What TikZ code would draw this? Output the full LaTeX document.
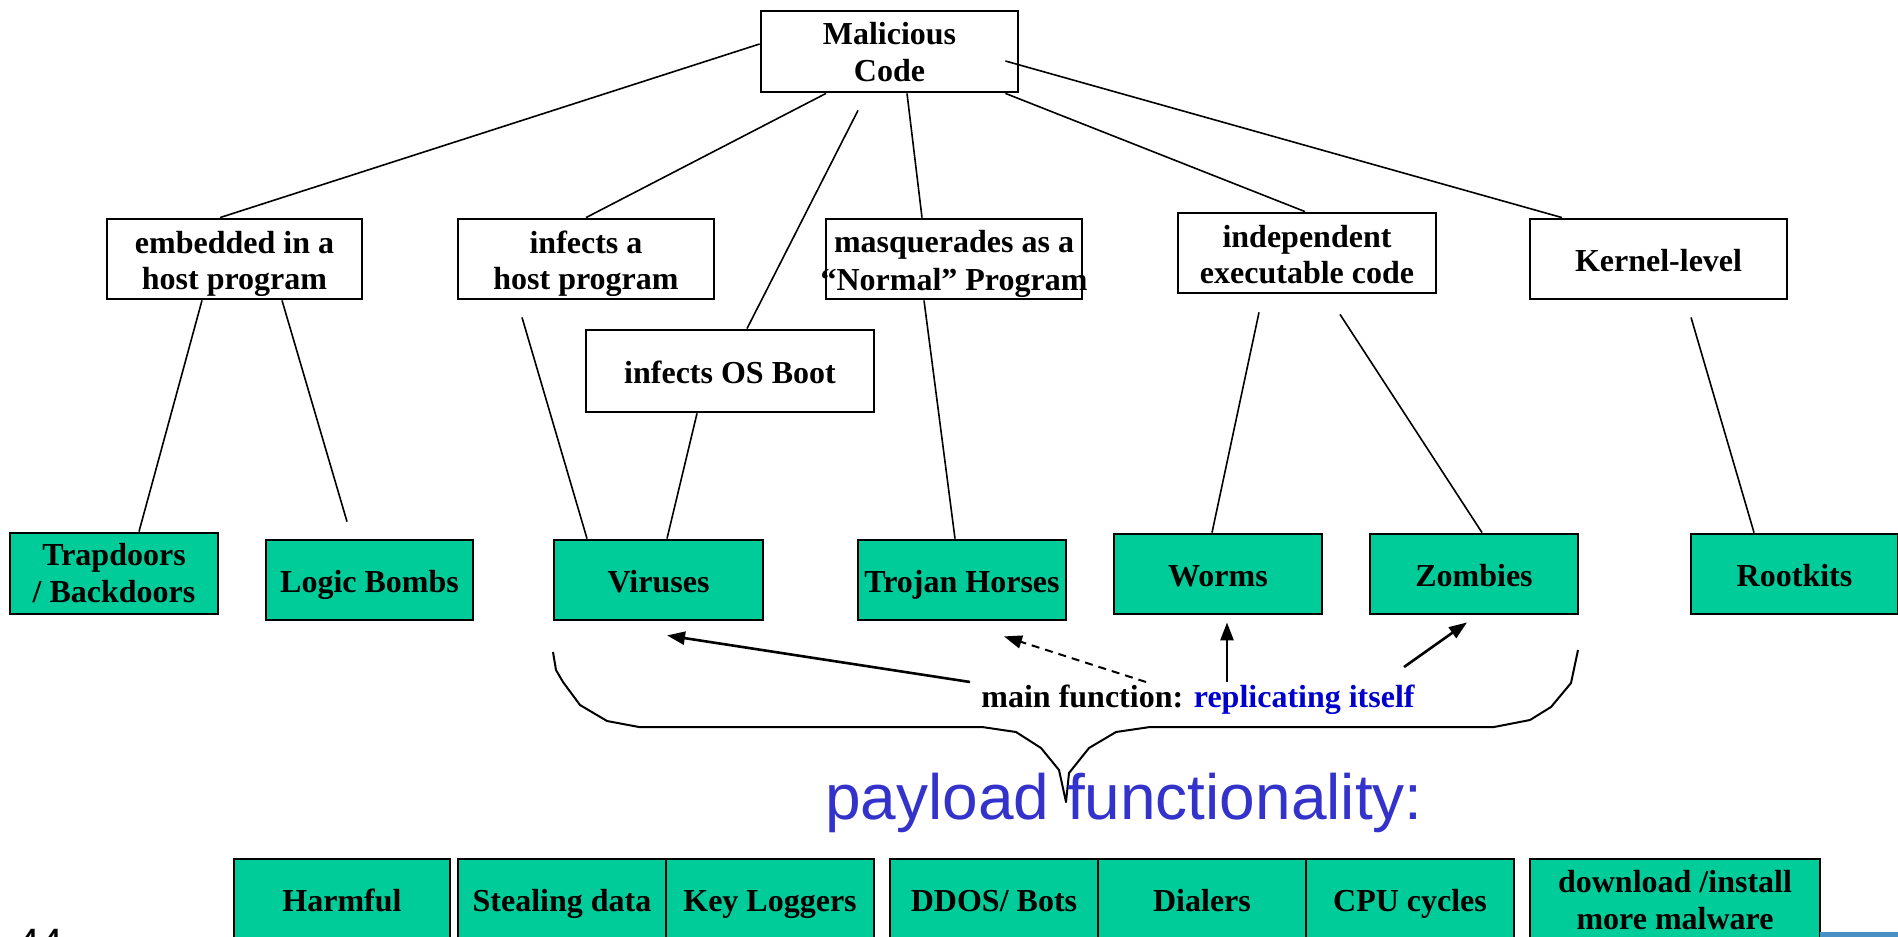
\documentclass[tikz,border=0pt]{standalone}
\usepackage{fontspec}
\setmainfont{Liberation Serif}
\newfontfamily\arialfont{Liberation Sans}
\usetikzlibrary{arrows.meta}
\definecolor{boxgreen}{RGB}{0,204,153}
\definecolor{repblue}{RGB}{0,0,204}
\definecolor{payblue}{RGB}{51,51,204}
\definecolor{slidebar}{RGB}{74,144,196}

\begin{document}
\begin{tikzpicture}[x={(0.5pt,0)}, y={(0,-0.5pt)},
  catbox/.style={draw=black, line width=1.4pt, fill=white, inner sep=0pt},
  leafbox/.style={catbox, fill=boxgreen},
  boxtext/.style={anchor=base, inner sep=0pt, font=\fontsize{16pt}{18.5pt}\selectfont\bfseries},
  treeline/.style={line width=0.8pt},
  reparrow/.style={line width=1.3pt, -{Triangle[length=9pt,width=6.5pt]}},
]
\useasboundingbox (0,0) rectangle (1898,936);
\clip (0,0) rectangle (1898,936);

% root of the taxonomy
\node[catbox, minimum width=128.5pt, minimum height=40.5pt] (mal) at (889.5,51.5) {};
\node[boxtext] (malA) at ([yshift=3.7pt]mal.center) {Malicious};
\node[boxtext] (malB) at ([yshift=-15pt]mal.center) {Code};

% categories
\node[catbox, minimum width=127.5pt, minimum height=40pt] (emb)   at (234.5,259) {};
\node[catbox, minimum width=128pt,   minimum height=40pt] (inf)   at (586,259)   {};
\node[catbox, minimum width=128pt,   minimum height=40pt] (masq)  at (954,259)   {};
\node[catbox, minimum width=129pt,   minimum height=40pt] (indep) at (1307,253)  {};
\node[catbox, minimum width=128.5pt, minimum height=40pt] (kern)  at (1658.5,259) {};
\node[catbox, minimum width=144pt,   minimum height=41pt] (boot)  at (730,371)   {};

\node[boxtext] (embA)   at ([yshift=3pt]emb.center)     {embedded in a};
\node[boxtext] (embB)   at ([yshift=-15.25pt]emb.center) {host program};
\node[boxtext] (infA)   at ([yshift=3pt]inf.center)     {infects a};
\node[boxtext] (infB)   at ([yshift=-15.25pt]inf.center) {host program};
\node[boxtext] (masqA)  at ([yshift=3.2pt]masq.center)  {masquerades as a};
\node[boxtext] (masqB)  at ([yshift=-15.6pt]masq.center) {“Normal” Program};
\node[boxtext] (indepA) at ([yshift=2.8pt]indep.center) {independent};
\node[boxtext] (indepB) at ([yshift=-15pt]indep.center) {executable code};
\node[boxtext] (kernT)  at ([yshift=-6.35pt]kern.center) {Kernel-level};
\node[boxtext] (bootT)  at ([yshift=-6.35pt]boot.center) {infects OS Boot};

% kinds of malware
\node[leafbox, minimum width=104pt,   minimum height=40.5pt] (trap)  at (114,573.5)  {};
\node[leafbox, minimum width=103.5pt, minimum height=40pt]   (logic) at (369.5,580)  {};
\node[leafbox, minimum width=104.5pt, minimum height=40pt]   (vir)   at (658.5,580)  {};
\node[leafbox, minimum width=104pt,   minimum height=40pt]   (troj)  at (962,580)    {};
\node[leafbox, minimum width=104pt,   minimum height=40pt]   (worms) at (1218,574)   {};
\node[leafbox, minimum width=104pt,   minimum height=40pt]   (zomb)  at (1474,574)   {};
\node[leafbox, minimum width=103.5pt, minimum height=40pt]   (root)  at (1794.5,574) {};

\node[boxtext] (trapA)  at ([yshift=3.8pt]trap.center)    {Trapdoors};
\node[boxtext] (trapB)  at ([yshift=-14.5pt]trap.center)  {/ Backdoors};
\node[boxtext] (logicT) at ([yshift=-6.35pt]logic.center) {Logic Bombs};
\node[boxtext] (virT)   at ([yshift=-6.35pt]vir.center)   {Viruses};
\node[boxtext] (trojT)  at ([yshift=-6.35pt]troj.center)  {Trojan Horses};
\node[boxtext] (wormsT) at ([yshift=-6.35pt]worms.center) {Worms};
\node[boxtext] (zombT)  at ([yshift=-6.35pt]zomb.center)  {Zombies};
\node[boxtext] (rootT)  at ([yshift=-6.35pt]root.center)  {Rootkits};

% tree links
\draw[treeline] ([yshift=3.75pt]mal.west) -- ([xshift=-7.25pt]emb.north);
\draw[treeline] ([xshift=-31.75pt]mal.south) -- (inf.north);
\draw[treeline] ([xshift=-15.75pt,yshift=-8.5pt]mal.south) -- ([xshift=8.5pt]boot.north);
\draw[treeline] ([xshift=8.75pt]mal.south) -- ([xshift=-16pt]masq.north);
\draw[treeline] ([xshift=-7pt]mal.south east) -- ([xshift=-1pt]indep.north);
\draw[treeline] ([xshift=-7pt,yshift=-4.75pt]mal.east) -- ([xshift=-48.25pt]kern.north);

\draw[treeline] ([xshift=-16.25pt]emb.south) -- ([xshift=12.5pt]trap.north);
\draw[treeline] ([xshift=23.75pt]emb.south) -- ([xshift=-11.25pt,yshift=8.5pt]logic.north);
\draw[treeline] ([xshift=-32pt,yshift=-8.5pt]inf.south) -- ([xshift=-35.75pt]vir.north);
\draw[treeline] ([xshift=-16.5pt]boot.south) -- ([xshift=4.25pt]vir.north);
\draw[treeline] ([xshift=-15pt]masq.south) -- ([xshift=-3.5pt]troj.north);
\draw[treeline] ([xshift=-24pt,yshift=-9pt]indep.south) -- ([xshift=-3pt]worms.north);
\draw[treeline] ([xshift=16.5pt,yshift=-10pt]indep.south) -- ([xshift=4pt]zomb.north);
\draw[treeline] ([xshift=16.25pt,yshift=-8.5pt]kern.south) -- ([xshift=-20.25pt]root.north);

% main function and its arrows
\node[boxtext] (mf) at (1198,707) {main function: \textcolor{repblue}{replicating itself}};
\draw[reparrow] ([xshift=-114pt,yshift=12.5pt]mf.base) -- ([xshift=4.25pt,yshift=-7pt]vir.south);
\draw[reparrow, line width=1pt, dash pattern=on 4pt off 3pt] ([xshift=-26pt,yshift=12.5pt]mf.base) -- ([xshift=21pt,yshift=-7.5pt]troj.south);
\draw[reparrow] ([xshift=14.5pt,yshift=12.5pt]mf.base) -- ([xshift=4.5pt,yshift=-3.5pt]worms.south);
\draw[reparrow] ([xshift=103pt,yshift=20pt]mf.base) -- ([xshift=-3.5pt,yshift=-3.5pt]zomb.south);

% curly brace gathering the payloads
\draw[line width=1pt, line join=round]
  (553,652) -- (556,670) -- (563,682) -- (580,705) -- (607,721) -- (639,727) -- (982,727)
  -- (1016,732) -- (1041,748) -- (1059,770) -- (1066,802) -- (1069,773) -- (1089,748)
  -- (1116,732) -- (1150,727) -- (1494,727) -- (1530,720) -- (1551,707) -- (1571,683) -- (1578,650);

\node[anchor=base, inner sep=0pt, text=payblue, font=\arialfont\fontsize{32pt}{38pt}\selectfont] (pay) at (1124,819)
  {payload functionality:};

% payload boxes
\node[leafbox, minimum width=108pt, minimum height=40pt] (harm)   at (342,899)  {};
\node[leafbox, minimum width=104pt, minimum height=40pt] (steal)  at (562,899)  {};
\node[leafbox, minimum width=104pt, minimum height=40pt] (keylog) at (770,899)  {};
\node[leafbox, minimum width=104pt, minimum height=40pt] (ddos)   at (994,899)  {};
\node[leafbox, minimum width=104pt, minimum height=40pt] (dial)   at (1202,899) {};
\node[leafbox, minimum width=104pt, minimum height=40pt] (cpu)    at (1410,899) {};
\node[leafbox, minimum width=145pt, minimum height=40pt] (down)   at (1675,899) {};

\node[boxtext] (harmT)   at ([yshift=-6.35pt]harm.center)   {Harmful};
\node[boxtext] (stealT)  at ([yshift=-6.35pt]steal.center)  {Stealing data};
\node[boxtext] (keylogT) at ([yshift=-6.35pt]keylog.center) {Key Loggers};
\node[boxtext] (ddosT)   at ([yshift=-6.35pt]ddos.center)   {DDOS/ Bots};
\node[boxtext] (dialT)   at ([yshift=-6.35pt]dial.center)   {Dialers};
\node[boxtext] (cpuT)    at ([yshift=-6.35pt]cpu.center)    {CPU cycles};
\node[boxtext] (downA)   at ([yshift=3.2pt]down.center)     {download /install};
\node[boxtext] (downB)   at ([yshift=-15.3pt]down.center)   {more malware};

% slide number and footer bar
\node[anchor=base west, inner sep=0pt, font=\arialfont\fontsize{20.5pt}{24pt}\selectfont] (pgnum) at (17,957) {44};
\fill[slidebar] (1820,932) rectangle (1898,940);
\end{tikzpicture}
\end{document}
